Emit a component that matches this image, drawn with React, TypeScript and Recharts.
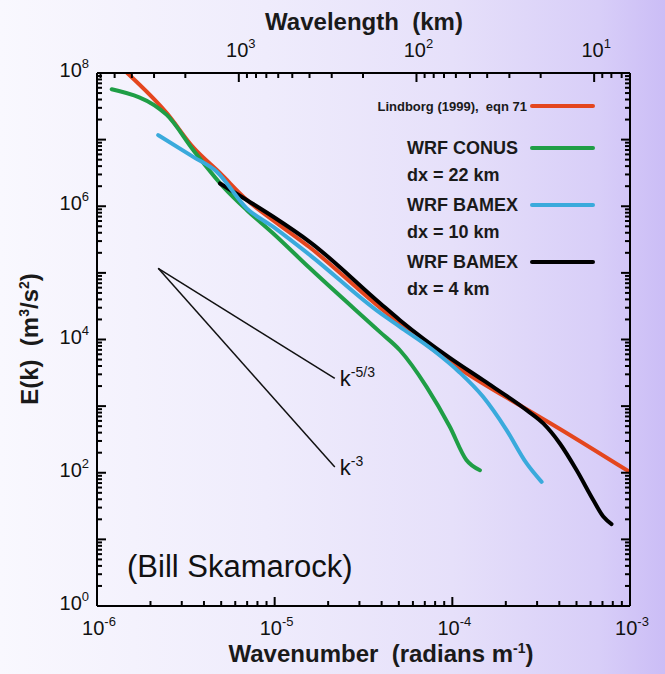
import { Line, LineChart, XAxis, YAxis } from 'recharts';

const FONT = '"Liberation Sans", Arial, Helvetica, sans-serif';

type Pt = { k: number; E: number };

// wavenumber k (radians m-1) vs E(k) (m3/s2)
const lindborg: Pt[] = [
  { k: 1.48e-6, E: 1.0e8 },
  { k: 2.47e-6, E: 2.5e7 },
  { k: 3.47e-6, E: 7.7e6 },
  { k: 4.92e-6, E: 3.15e6 },
  { k: 6.98e-6, E: 1.24e6 },
  { k: 9.77e-6, E: 6.2e5 },
  { k: 1.58e-5, E: 2.4e5 },
  { k: 3.92e-5, E: 3.0e4 },
  { k: 1.06e-4, E: 3.9e3 },
  { k: 2.49e-4, E: 970 },
  { k: 3.54e-4, E: 560 },
  { k: 1.0e-3, E: 102 },
];

const conus22: Pt[] = [
  { k: 1.21e-6, E: 5.7e7 },
  { k: 2.47e-6, E: 2.35e7 },
  { k: 3.48e-6, E: 7.0e6 },
  { k: 5.14e-6, E: 1.96e6 },
  { k: 6.96e-6, E: 8.8e5 },
  { k: 9.82e-6, E: 3.9e5 },
  { k: 1.58e-5, E: 1.17e5 },
  { k: 3.92e-5, E: 1.29e4 },
  { k: 5.07e-5, E: 6.9e3 },
  { k: 7.16e-5, E: 1.95e3 },
  { k: 9.68e-5, E: 490 },
  { k: 1.2e-4, E: 155 },
  { k: 1.43e-4, E: 109 },
];

const bamex10: Pt[] = [
  { k: 2.21e-6, E: 1.17e7 },
  { k: 3.48e-6, E: 5.5e6 },
  { k: 4.72e-6, E: 3.3e6 },
  { k: 6.96e-6, E: 9.3e5 },
  { k: 9.82e-6, E: 4.9e5 },
  { k: 1.58e-5, E: 1.85e5 },
  { k: 3.92e-5, E: 2.5e4 },
  { k: 5.07e-5, E: 1.55e4 },
  { k: 7.81e-5, E: 6.9e3 },
  { k: 1.1e-4, E: 3.2e3 },
  { k: 1.49e-4, E: 1.38e3 },
  { k: 2.02e-4, E: 437 },
  { k: 2.62e-4, E: 138 },
  { k: 3.18e-4, E: 73 },
];

const bamex4: Pt[] = [
  { k: 4.92e-6, E: 2.2e6 },
  { k: 6.96e-6, E: 1.24e6 },
  { k: 9.82e-6, E: 6.95e5 },
  { k: 1.58e-5, E: 2.9e5 },
  { k: 3.92e-5, E: 3.5e4 },
  { k: 5.07e-5, E: 1.95e4 },
  { k: 9.68e-5, E: 5.3e3 },
  { k: 1.49e-4, E: 2.45e3 },
  { k: 2.62e-4, E: 870 },
  { k: 3.25e-4, E: 550 },
  { k: 4.03e-4, E: 275 },
  { k: 5.01e-4, E: 109 },
  { k: 6.21e-4, E: 39 },
  { k: 7.07e-4, E: 22 },
  { k: 7.87e-4, E: 17 },
];

// slope guides
const slope53: Pt[] = [
  { k: 2.21e-6, E: 1.17e5 },
  { k: 2.18e-5, E: 2.6e3 },
];
const slope3: Pt[] = [
  { k: 2.21e-6, E: 1.17e5 },
  { k: 2.18e-5, E: 122 },
];

const SERIES = [
  { key: 'lindborg', data: lindborg, color: '#e4461e', name: 'Lindborg (1999),  eqn 71', sub: '' },
  { key: 'conus22', data: conus22, color: '#1f9e46', name: 'WRF CONUS', sub: 'dx = 22 km' },
  { key: 'bamex4', data: bamex4, color: '#000000', name: 'WRF BAMEX', sub: 'dx = 4 km' },
  { key: 'bamex10', data: bamex10, color: '#3aaadc', name: 'WRF BAMEX', sub: 'dx = 10 km' },
];
const LEGEND_ORDER = ['lindborg', 'conus22', 'bamex10', 'bamex4'];

const X_DOMAIN = [1e-6, 1e-3];
const Y_DOMAIN = [1, 1e8];
const MULTS = [2, 3, 4, 5, 6, 7, 8, 9];

const X_MAJOR = [1e-6, 1e-5, 1e-4, 1e-3];
const X_MAJOR_EXP = ['-6', '-5', '-4', '-3'];
const X_MINOR = [1e-6, 1e-5, 1e-4].flatMap(d => MULTS.map(m => m * d));

const Y_MAJOR = [1, 10, 1e2, 1e3, 1e4, 1e5, 1e6, 1e7, 1e8];
const Y_LABELED = [1, 1e2, 1e4, 1e6, 1e8];
const Y_LABEL_EXP = ['0', '2', '4', '6', '8'];
const Y_MINOR = Y_MAJOR.slice(0, -1).flatMap(d => MULTS.map(m => m * d));

// wavelength axis (km), k = 2*pi / wavelength
const TOP_KM_MAJOR = [1000, 100, 10];
const TOP_KM_EXP = ['3', '2', '1'];
const TOP_KM_MINOR = [6000, 5000, 4000, 3000, 2000, 900, 800, 700, 600, 500, 400, 300, 200, 90, 80, 70, 60, 50, 40, 30, 20, 9, 8, 7];
const kOf = (km: number) => (2 * Math.PI) / (km * 1000);
const TOP_MAJOR_K = TOP_KM_MAJOR.map(kOf);
const TOP_TICKS = [...TOP_MAJOR_K, ...TOP_KM_MINOR.map(kOf)];

const MAJOR_LEN = 9;
const MINOR_LEN = 5;

const Pow = ({ x, y, exp, anchor }: { x: number; y: number; exp: string; anchor: 'start' | 'middle' | 'end' }) => (
  <text x={x} y={y} textAnchor={anchor} fontFamily={FONT} fontSize={20} fill="#111">
    <tspan>10</tspan>
    <tspan dy={-9} fontSize={13}>{exp}</tspan>
  </text>
);

const isEdge = (v: number, dom: number[]) =>
  Math.abs(Math.log10(v) - Math.log10(dom[0])) < 1e-6 || Math.abs(Math.log10(v) - Math.log10(dom[1])) < 1e-6;

const BottomTick = (props: any) => {
  const { x, y, payload } = props;
  const i = X_MAJOR.indexOf(payload.value);
  const len = i >= 0 ? MAJOR_LEN : MINOR_LEN;
  return (
    <g>
      {!isEdge(payload.value, X_DOMAIN) && <line x1={x} x2={x} y1={y} y2={y - len} stroke="#000" strokeWidth={2} />}
      {i >= 0 && <Pow x={x + 2} y={y + 29} exp={X_MAJOR_EXP[i]} anchor="middle" />}
    </g>
  );
};

const TopTick = (props: any) => {
  const { x, y, payload } = props;
  const i = TOP_MAJOR_K.indexOf(payload.value);
  const len = i >= 0 ? MAJOR_LEN : MINOR_LEN;
  return (
    <g>
      <line x1={x} x2={x} y1={y} y2={y + len} stroke="#000" strokeWidth={2} />
      {i >= 0 && <Pow x={x + 2} y={y - 16} exp={TOP_KM_EXP[i]} anchor="middle" />}
    </g>
  );
};

const LeftTick = (props: any) => {
  const { x, y, payload } = props;
  const major = Y_MAJOR.includes(payload.value);
  const li = Y_LABELED.indexOf(payload.value);
  return (
    <g>
      {!isEdge(payload.value, Y_DOMAIN) && (
        <line x1={x} x2={x + (major ? MAJOR_LEN : MINOR_LEN)} y1={y} y2={y} stroke="#000" strokeWidth={2} />
      )}
      {li >= 0 && <Pow x={x - 8} y={y + 4} exp={Y_LABEL_EXP[li]} anchor="end" />}
    </g>
  );
};

const RightTick = (props: any) => {
  const { x, y, payload } = props;
  const major = Y_MAJOR.includes(payload.value);
  return (
    <g>
      {!isEdge(payload.value, Y_DOMAIN) && (
        <line x1={x} x2={x - (major ? MAJOR_LEN : MINOR_LEN)} y1={y} y2={y} stroke="#000" strokeWidth={2} />
      )}
    </g>
  );
};

const slopeLabel = (sup: string) => (p: any) =>
  p.index === 1 ? (
    <text x={p.x + 5} y={p.y + 8} fontFamily={FONT} fontSize={22} fill="#111">
      <tspan>k</tspan>
      <tspan dy={-9} fontSize={14}>{sup}</tspan>
    </text>
  ) : null;

// legend rows (line centre y, relative to the legend box at 370, 90)
const ROW_Y = [16, 58, 115, 172];

const LegendBox = () => (
  <div
    style={{
      position: 'absolute',
      left: 370,
      top: 90,
      width: 240,
      height: 215,
      fontFamily: FONT,
      fontWeight: 'bold',
      color: '#1a1a1a',
    }}
  >
    {LEGEND_ORDER.map((key, r) => {
      const s = SERIES.find(d => d.key === key)!;
      const y = ROW_Y[r];
      return (
        <div key={key}>
          {s.sub ? (
            <>
              <div style={{ position: 'absolute', left: 37, top: y - 9, fontSize: 18, lineHeight: '18px', whiteSpace: 'pre' }}>
                {s.name}
              </div>
              <div style={{ position: 'absolute', left: 37, top: y + 18, fontSize: 18, lineHeight: '18px', whiteSpace: 'pre' }}>
                {s.sub}
              </div>
            </>
          ) : (
            <div style={{ position: 'absolute', right: 83, top: y - 6, fontSize: 13, lineHeight: '13px', whiteSpace: 'pre' }}>
              {s.name}
            </div>
          )}
          <div style={{ position: 'absolute', left: 160, top: y - 2, width: 65, height: 4, borderRadius: 2, background: s.color }} />
        </div>
      );
    })}
  </div>
);

const AXIS_LINE = { stroke: '#000', strokeWidth: 2 };
const TITLE: React.CSSProperties = {
  position: 'absolute',
  fontFamily: FONT,
  fontWeight: 'bold',
  fontSize: 24,
  lineHeight: '24px',
  color: '#1a1a1a',
  textAlign: 'center',
  whiteSpace: 'pre',
};
const SUP: React.CSSProperties = { fontSize: 14, verticalAlign: 9, lineHeight: 0 };

export default function App() {
  return (
    <div
      style={{
        position: 'absolute',
        left: 0,
        top: 0,
        width: 665,
        height: 674,
        background: 'linear-gradient(to right, #f9f8fe 0%, #efecfc 40%, #e6e0fa 68%, #d8cef8 90%, #cbbdf6 100%)',
      }}
    >
      {/* text overlays first, the chart stays the last child */}
      <div style={{ ...TITLE, left: 164, top: 10, width: 400 }}>Wavelength  (km)</div>
      <div style={{ ...TITLE, left: 131, top: 642, width: 500 }}>
        Wavenumber  (radians m<span style={SUP}>-1</span>)
      </div>
      <div style={{ ...TITLE, left: 30 - 150, top: 339 - 12, width: 300, transform: 'rotate(-90deg)' }}>
        E(k)  (m<span style={SUP}>3</span>/s<span style={SUP}>2</span>)
      </div>
      <div
        style={{
          position: 'absolute',
          left: 127,
          top: 551,
          fontFamily: FONT,
          fontSize: 31,
          lineHeight: '31px',
          color: '#111',
          whiteSpace: 'pre',
        }}
      >
        (Bill Skamarock)
      </div>
      <LegendBox />

      <LineChart width={665} height={674} margin={{ top: 33, right: 25, bottom: 28, left: 37 }}>
        <XAxis
          dataKey="k"
          type="number"
          scale="log"
          domain={X_DOMAIN}
          allowDataOverflow
          ticks={[...X_MAJOR, ...X_MINOR]}
          interval={0}
          height={40}
          tickSize={0}
          tickMargin={0}
          tickLine={false}
          axisLine={AXIS_LINE}
          tick={<BottomTick />}
        />
        <XAxis
          xAxisId="top"
          orientation="top"
          dataKey="k"
          type="number"
          scale="log"
          domain={X_DOMAIN}
          allowDataOverflow
          ticks={TOP_TICKS}
          interval={0}
          height={40}
          tickSize={0}
          tickMargin={0}
          tickLine={false}
          axisLine={AXIS_LINE}
          tick={<TopTick />}
        />
        <YAxis
          type="number"
          scale="log"
          domain={Y_DOMAIN}
          allowDataOverflow
          ticks={[...Y_MAJOR, ...Y_MINOR]}
          interval={0}
          width={60}
          tickSize={0}
          tickMargin={0}
          tickLine={false}
          axisLine={AXIS_LINE}
          tick={<LeftTick />}
        />
        <YAxis
          yAxisId="right"
          orientation="right"
          type="number"
          scale="log"
          domain={Y_DOMAIN}
          allowDataOverflow
          ticks={[...Y_MAJOR, ...Y_MINOR]}
          interval={0}
          width={10}
          tickSize={0}
          tickMargin={0}
          tickLine={false}
          axisLine={AXIS_LINE}
          tick={<RightTick />}
        />
        <Line
          data={slope53}
          dataKey="E"
          stroke="#111"
          strokeWidth={1.5}
          dot={false}
          activeDot={false}
          type="linear"
          isAnimationActive={false}
          label={slopeLabel('-5/3')}
        />
        <Line
          data={slope3}
          dataKey="E"
          stroke="#111"
          strokeWidth={1.5}
          dot={false}
          activeDot={false}
          type="linear"
          isAnimationActive={false}
          label={slopeLabel('-3')}
        />
        {SERIES.map(s => (
          <Line
            key={s.key}
            data={s.data}
            dataKey="E"
            stroke={s.color}
            strokeWidth={4}
            strokeLinecap="round"
            dot={false}
            activeDot={false}
            type="monotone"
            isAnimationActive={false}
          />
        ))}
      </LineChart>
    </div>
  );
}
